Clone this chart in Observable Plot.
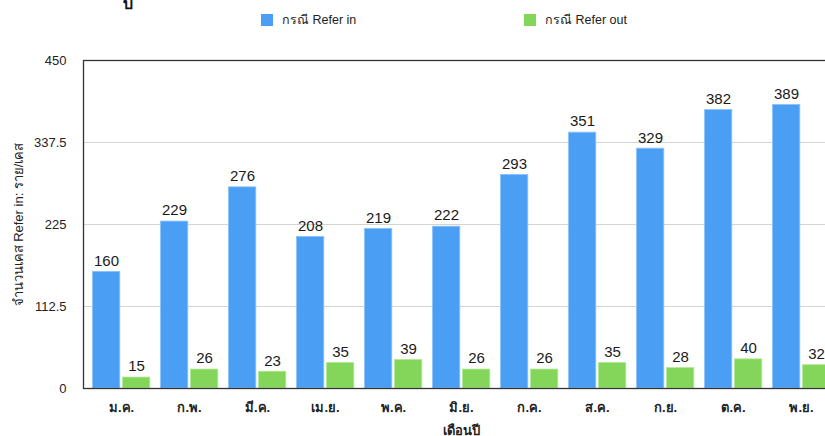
<!DOCTYPE html>
<html>
<head>
<meta charset="utf-8">
<script src="https://cdn.jsdelivr.net/npm/d3@7"></script>
<script src="https://cdn.jsdelivr.net/npm/@observablehq/plot@0.6"></script>
<style>
  html, body { margin: 0; padding: 0; background: #fff; overflow: hidden; width: 825px; height: 436px; }
  #wrap { position: relative; width: 825px; height: 436px; overflow: hidden; font-family: "Liberation Sans", "Noto Sans", sans-serif; }
  #title { position: absolute; left: 123px; top: -9px; font-size: 16px; font-weight: bold; color: #111; }
  .key { position: absolute; top: 10px; display: flex; align-items: center; font-size: 12.5px; color: #222; }
  .swatch { width: 12px; height: 12px; margin-right: 9px; }
  #chart { position: absolute; left: 0; top: 0; width: 839px; }
  #chart svg { max-width: none !important; }
</style>
</head>
<body>
<div id="wrap">
  <div id="title">บ</div>
  <div class="key" style="left:261px"><span class="swatch" style="background:#4a9ff5"></span>กรณี Refer in</div>
  <div class="key" style="left:524px"><span class="swatch" style="background:#84d65a"></span>กรณี Refer out</div>
  <div id="chart"></div>
</div>
<script>
// Monthly referral counts
const months = ["ม.ค.", "ก.พ.", "มี.ค.", "เม.ย.", "พ.ค.", "มิ.ย.", "ก.ค.", "ส.ค.", "ก.ย.", "ต.ค.", "พ.ย."];
const referIn = [160, 229, 276, 208, 219, 222, 293, 351, 329, 382, 389];
const referOut = [15, 26, 23, 35, 39, 26, 26, 35, 28, 40, 32];
const yTicks = [0, 112.5, 225, 337.5, 450];

const rowsIn = months.map((m, i) => ({month: m, value: referIn[i]}));
const rowsOut = months.map((m, i) => ({month: m, value: referOut[i]}));

const font = "Liberation Sans, Noto Sans, sans-serif";

const chart = Plot.plot({
  width: 839,
  height: 436,
  marginTop: 60,
  marginBottom: 48,
  marginLeft: 83,
  marginRight: 0,
  style: {fontFamily: font, fontSize: "13px", color: "#222", background: "transparent", overflow: "visible", maxWidth: "none"},
  x: {domain: months, padding: 0, label: null},
  y: {domain: [0, 450], label: null},
  marks: [
    Plot.ruleY(yTicks.slice(1, -1), {stroke: "#d4d4d4", strokeWidth: 1}),
    Plot.barY(rowsIn, {x: "month", y: "value", fill: "#4a9ff5", stroke: "#8cc2fa", strokeWidth: 0.8, insetLeft: 5.5, insetRight: 35.2}),
    Plot.barY(rowsOut, {x: "month", y: "value", fill: "#84d65a", stroke: "#b0e893", strokeWidth: 0.8, insetLeft: 35.5, insetRight: 5.2}),
    Plot.text(rowsIn, {x: "month", y: "value", text: d => String(d.value), dx: -15, dy: -11, fontSize: 15, fill: "#1a1a1a"}),
    Plot.text(rowsOut, {x: "month", y: "value", text: d => String(d.value), dx: 15, dy: -11, fontSize: 15, fill: "#1a1a1a"}),
    Plot.axisY({ticks: yTicks, tickSize: 0, tickPadding: 17, tickFormat: d => String(d), fontSize: 13, label: "จำนวนเคส Refer in: ราย/เคส", labelAnchor: "center", labelOffset: 70, labelArrow: "none"}),
    Plot.axisX({tickSize: 0, tickPadding: 14, fontSize: 13, fontWeight: "bold", label: "เดือนปี", labelAnchor: "center", labelOffset: 46, labelArrow: "none"}),
    Plot.frame({stroke: "#333", strokeWidth: 1.3})
  ]
});
chart.style.maxWidth = "none";
document.getElementById("chart").appendChild(chart);
</script>
</body>
</html>
